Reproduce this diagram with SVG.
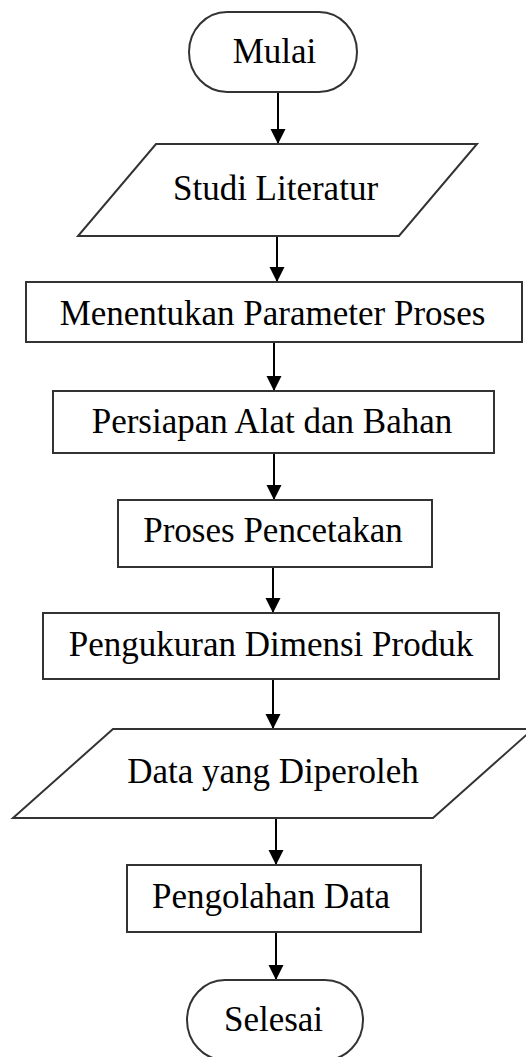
<svg xmlns="http://www.w3.org/2000/svg" width="526" height="1057" viewBox="0 0 526 1057">
<style>
.shape{fill:#fff;stroke:#333;stroke-width:2}
.lbl{font-family:"Liberation Serif","Times New Roman",serif;font-size:35px;fill:#000;text-anchor:middle}
.con{stroke:#000;stroke-width:2;fill:none;marker-end:url(#ah)}
</style>
<defs>
<marker id="ah" markerUnits="userSpaceOnUse" markerWidth="16" markerHeight="16" refX="15" refY="7.5" orient="auto">
<path d="M0,0 L15,7.5 L0,15 z" fill="#000"/>
</marker>
</defs>
<rect width="526" height="1057" fill="#fff"/>
<g id="connectors">
<line class="con" x1="278" y1="92" x2="278" y2="144"/>
<line class="con" x1="277" y1="236" x2="277" y2="282"/>
<line class="con" x1="274" y1="342" x2="274" y2="391"/>
<line class="con" x1="274" y1="453" x2="274" y2="500"/>
<line class="con" x1="273" y1="567" x2="273" y2="613"/>
<line class="con" x1="273" y1="679" x2="273" y2="729"/>
<line class="con" x1="276" y1="818" x2="276" y2="865"/>
<line class="con" x1="276" y1="932" x2="276" y2="980"/>
</g>
<g id="mulai">
<rect class="shape" x="189" y="12" width="168" height="80" rx="38" ry="40"/>
<text class="lbl" x="274.5" y="63">Mulai</text>
</g>
<g id="studi">
<polygon class="shape" points="156,144 477,144 399,236 78,236"/>
<text class="lbl" x="275.5" y="200">Studi Literatur</text>
</g>
<g id="parameter">
<rect class="shape" x="26" y="282" width="496" height="60"/>
<text class="lbl" x="272.5" y="325">Menentukan Parameter Proses</text>
</g>
<g id="persiapan">
<rect class="shape" x="53" y="391" width="441" height="62"/>
<text class="lbl" x="272" y="433">Persiapan Alat dan Bahan</text>
</g>
<g id="pencetakan">
<rect class="shape" x="118" y="500" width="314" height="67"/>
<text class="lbl" x="273" y="542">Proses Pencetakan</text>
</g>
<g id="pengukuran">
<rect class="shape" x="43" y="613" width="456" height="66"/>
<text class="lbl" x="271" y="656">Pengukuran Dimensi Produk</text>
</g>
<g id="data">
<polygon class="shape" points="113,729 533,729 433,818 13,818"/>
<text class="lbl" x="273" y="783">Data yang Diperoleh</text>
</g>
<g id="pengolahan">
<rect class="shape" x="127" y="865" width="294" height="67"/>
<text class="lbl" x="271" y="908">Pengolahan Data</text>
</g>
<g id="selesai">
<rect class="shape" x="187" y="980" width="176" height="80" rx="38" ry="40"/>
<text class="lbl" x="273.5" y="1031">Selesai</text>
</g>
</svg>
